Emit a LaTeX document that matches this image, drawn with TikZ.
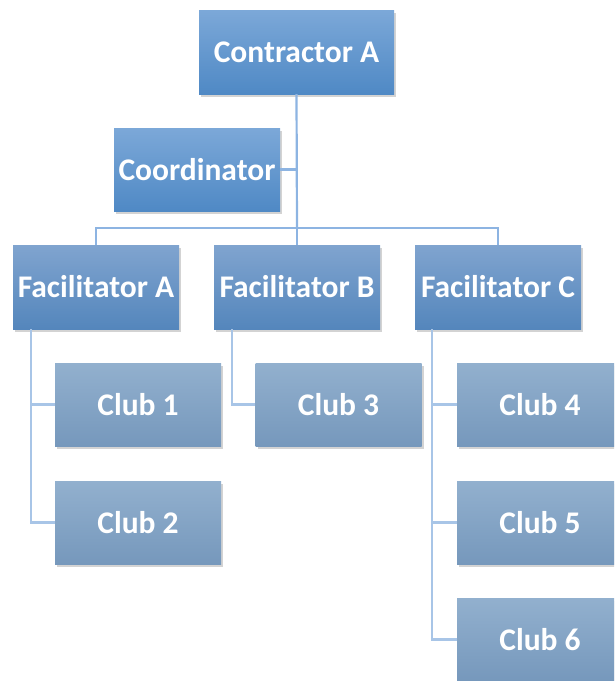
\documentclass[tikz,border=0pt]{standalone}
\usepackage{fontspec}
\setmainfont{Carlito}
\definecolor{main}{RGB}{79,137,197}
\definecolor{mainlight}{RGB}{124,168,216}
\definecolor{second}{RGB}{84,134,188}
\definecolor{secondlight}{RGB}{128,164,207}
\definecolor{third}{RGB}{118,152,188}
\definecolor{thirdlight}{RGB}{146,176,206}
\definecolor{linkc}{RGB}{141,180,226}
\definecolor{linkcl}{RGB}{168,197,231}
\usetikzlibrary{positioning,shadows}
\tikzset{
  % node
	cstbox/.style    ={text=white,font=\bfseries\fontsize{31.5}{36}\selectfont,inner sep=0pt,
		drop shadow={opacity=.35,shadow xshift=2pt,shadow yshift=-3pt}},
	cstnode1/.style  ={cstbox,top color=mainlight,bottom color=main,minimum height=84pt},
	cstnode2/.style  ={cstbox,top color=secondlight,bottom color=second,minimum width=166pt,minimum height=84pt},
	cstnode3/.style  ={cstbox,top color=thirdlight,bottom color=third,minimum width=166pt,minimum height=83pt},
  % line
	cstline/.style   ={linkc,line width=2.2pt},
	cstlinel/.style  ={linkcl,line width=2.2pt}
}

\begin{document}
\begin{tikzpicture}[x=1pt,y=-1pt]
	\useasboundingbox (0,0) rectangle (614,681);
	\clip (0,0) rectangle (614,681);
	% top
	\node[cstnode1,minimum width=195pt] (contractor) at (296.5,52) {Contractor A};
	\node[cstnode1,minimum width=166pt,minimum height=83pt] (coordinator) at (197,169.5) {Coordinator};
	\coordinate (trunk) at (297,228);
	% facilitators
	\node[cstnode2] (facA) at (96,287) {Facilitator A};
	\node[cstnode2] (facB) at (297,287) {Facilitator B};
	\node[cstnode2] (facC) at (498,287) {Facilitator C};
	% clubs
	\node[cstnode3] (club1) at (138,404.5) {Club 1};
	\node[cstnode3] (club2) at (138,522.5) {Club 2};
	\node[cstnode3] (club3) at (338.5,404.5) {Club 3};
	\node[cstnode3] (club4) at (540,404.5) {Club 4};
	\node[cstnode3] (club5) at (540,522.5) {Club 5};
	\node[cstnode3] (club6) at (540,639.5) {Club 6};
	% links
	\draw[cstline] (contractor.south) -- (trunk);
	\draw[cstline] (coordinator.east) -- (coordinator.east -| trunk);
	\draw[cstline] (facA.north) |- (trunk) -| (facC.north);
	\draw[cstline] (trunk) -- (facB.north);
	\draw[cstlinel] ([xshift=18pt]facA.south west) |- (club1.west);
	\draw[cstlinel] ([xshift=18pt]facA.south west) |- (club2.west);
	\draw[cstlinel] ([xshift=18pt]facB.south west) |- (club3.west);
	\draw[cstlinel] ([xshift=17pt]facC.south west) |- (club4.west);
	\draw[cstlinel] ([xshift=17pt]facC.south west) |- (club5.west);
	\draw[cstlinel] ([xshift=17pt]facC.south west) |- (club6.west);
\end{tikzpicture}
\end{document}
